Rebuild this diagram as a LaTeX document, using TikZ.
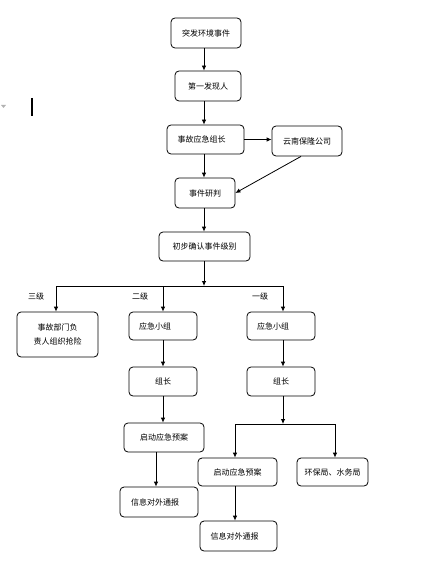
\documentclass[tikz,border=0pt]{standalone}
\usepackage{fontspec}
\setmainfont{Noto Sans CJK SC}
\usetikzlibrary{arrows.meta}
\tikzset{
  box/.style={draw, rounded corners=4pt, line width=0.8pt, inner sep=0pt, font=\fontsize{8}{14}\selectfont, align=center},
  arr/.style={line width=0.8pt, -{Latex[length=5pt,width=4.5pt]}},
  ln/.style={line width=0.8pt},
  lbl/.style={font=\fontsize{8}{10}\selectfont, inner sep=0pt}
}
\begin{document}
\begin{tikzpicture}[x=1pt,y=-1pt]
\useasboundingbox (0,0) rectangle (437,564);
% stray marks
\fill[gray!60] (1,105) -- (6,105) -- (3.5,108) -- cycle;
\draw[line width=1.6pt] (32,98) -- (32,116);
% nodes
\node[box, minimum width=70pt, minimum height=30pt] (b1) at (206,33) {突发环境事件};
\node[box, minimum width=66pt, minimum height=30pt] (b2) at (208,86) {第一发现人};
\node[box, minimum width=77pt, minimum height=29pt] (b3) at (205.5,139.5) {事故应急组长\hspace*{8pt}};
\node[box, minimum width=70pt, minimum height=30pt] (b4) at (307,141) {云南保隆公司};
\node[box, minimum width=60pt, minimum height=30pt] (b5) at (205,193) {事件研判};
\node[box, minimum width=91pt, minimum height=29pt] (b6) at (204.5,246.5) {初步确认事件级别};
\node[box, minimum width=81pt, minimum height=45pt] (b7) at (57.5,334.5) {事故部门负\\责人组织抢险};
\node[box, minimum width=68pt, minimum height=28pt] (b8) at (163,326) {应急小组\hspace*{16pt}};
\node[box, minimum width=68pt, minimum height=28pt] (b9) at (281,326) {应急小组\hspace*{16pt}};
\node[box, minimum width=68pt, minimum height=29pt] (b10) at (163,381.5) {组长};
\node[box, minimum width=68pt, minimum height=29pt] (b11) at (281,381.5) {组长};
\node[box, minimum width=80pt, minimum height=29pt] (b12) at (164,437.5) {启动应急预案};
\node[box, minimum width=78pt, minimum height=30pt] (b13) at (159,502) {信息对外通报\hspace*{8pt}};
\node[box, minimum width=79pt, minimum height=28pt] (b14) at (237.5,472) {启动应急预案};
\node[box, minimum width=71pt, minimum height=28pt] (b15) at (332.5,472) {环保局、水务局};
\node[box, minimum width=77pt, minimum height=30pt] (b16) at (238.5,536) {信息对外通报\hspace*{8pt}};
% labels
\node[lbl] (l3) at (36,296) {三级};
\node[lbl] (l2) at (140,296) {二级};
\node[lbl] (l1) at (260,296) {一级};
% axis coordinates
\coordinate (ax) at (204,0);
\coordinate (xa) at (56,0);
\coordinate (xb) at (163,0);
\coordinate (xc) at (283,0);
\coordinate (xd) at (156,0);
\coordinate (xe) at (235,0);
\coordinate (xf) at (335,0);
\coordinate (j1) at (204,286);
\coordinate (j2) at (283,424);
% connectors
\draw[arr] (b1.south -| ax) -- (b2.north -| ax);
\draw[arr] (b2.south -| ax) -- (b3.north -| ax);
\draw[arr] (b3.east) -- (b3.east -| b4.west);
\draw[arr] (b3.south -| ax) -- (b5.north -| ax);
\draw[arr] ([xshift=-6pt]b4.south) -- (b5.east);
\draw[arr] (b5.south -| ax) -- (b6.north -| ax);
\draw[arr] (b6.south -| ax) -- (j1);
\draw[ln] (j1 -| xa) -- (j1 -| xc);
\draw[arr] (j1 -| xa) -- (b7.north -| xa);
\draw[arr] (j1 -| xb) -- (b8.north -| xb);
\draw[arr] (j1 -| xc) -- (b9.north -| xc);
\draw[arr] (b8.south -| xb) -- (b10.north -| xb);
\draw[arr] (b9.south -| xc) -- (b11.north -| xc);
\draw[arr] (b10.south -| xb) -- (b12.north -| xb);
\draw[arr] (b12.south -| xd) -- (b13.north -| xd);
\draw[arr] (b11.south -| xc) -- (j2);
\draw[ln] (j2 -| xe) -- (j2 -| xf);
\draw[arr] (j2 -| xe) -- (b14.north -| xe);
\draw[arr] (j2 -| xf) -- (b15.north -| xf);
\draw[arr] (b14.south -| xe) -- (b16.north -| xe);
\end{tikzpicture}
\end{document}
